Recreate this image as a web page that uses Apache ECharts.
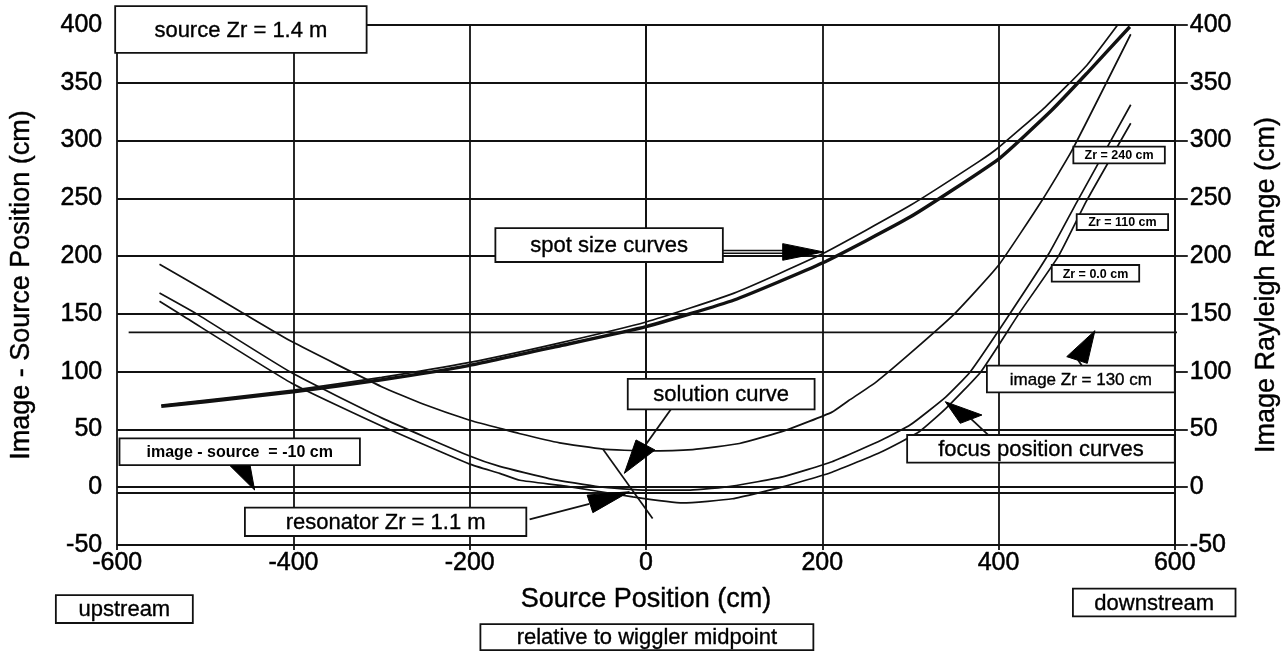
<!DOCTYPE html>
<html><head><meta charset="utf-8">
<script src="https://cdn.jsdelivr.net/npm/echarts@6/dist/echarts.min.js"></script>
<style>html,body{margin:0;padding:0;background:#fff}#c{width:1288px;height:651px}</style>
</head><body><div id="c"></div>
<script>
// ---- axis ticks ----
const xTicks = [-600,-400,-200,0,200,400,600];
const yTicks = [-50,0,50,100,150,200,250,300,350,400];

// ---- spot size curves ----
const spotThickX = [-550,-500,-400,-300,-200,-100,0,100,200,300,400,460,500,549];
const spotThickY = [70,74,82.5,93,105.5,122,139,162,194,234,284,326,358,398.5];
const spotThinX  = [-550,-400,-300,-200,-100,0,100,200,300,378,400,453,500,538];
const spotThinY  = [71,84,95,108,124.5,143,168,202,244,282,294,329,365,403];

// ---- focus position curves ----
const focus240X = [-552,-500,-458,-402,-300,-253,-200,-166,-144,-98,-49,0,53,106,159,211,230,261,300,350,400,450,483,550];
const focus240Y = [193,170,151,126,87,72,58,51,46.5,38.4,33,31.4,32.6,37.8,49.4,65,75,91,116,150,192,249,291,392];
const focus110X = [-552,-510,-402,-300,-200,-166,-110,-53,0,50,98,155,211,268,300,340,368,411,457,489,550];
const focus110Y = [168,150,99,60,27,18,7.5,0.3,-2.5,-2.5,1,9,22,41,54,78,100,148,202,247,331];
const focus0X   = [-552,-527,-402,-300,-200,-166,-143,-91,-15,42,98,155,211,268,310,340,380,423,468,500,550];
const focus0Y   = [161,149,90,53,20,12,6,1,-8.4,-13.6,-10,0.3,13,31,48,68,100,150,200,248,315];

// ---- solution curve and reference lines ----
const solutionX = [-49,7.5];
const solutionY = [33,-27];
const imageZrLineX = [-587,609];
const imageZrLineY = [134,134];
const diffLineX = [-600,600];
const diffLineY = [-5,-5];

// ---- annotation texts ----
const boxTexts = ['source Zr = 1.4 m','spot size curves','solution curve','resonator Zr = 1.1 m',
  'image - source  = -10 cm','Zr = 240 cm','Zr = 110 cm','Zr = 0.0 cm','image Zr = 130 cm',
  'focus position curves','upstream','downstream','relative to wiggler midpoint'];

const zip = (xs, ys) => xs.map((x, i) => [x, ys[i]]);
const FONT = '"Liberation Sans", Arial, Helvetica, sans-serif';
const INK = '#111';

const chart = echarts.init(document.getElementById('c'), null, {renderer: 'canvas'});

function lineSeries(name, xs, ys, w, extra) {
  return Object.assign({
    name, type: 'line', data: zip(xs, ys), showSymbol: false, smooth: 0.15,
    lineStyle: {color: INK, width: w}, silent: true, animation: false, z: 3
  }, extra || {});
}

const labelStyle = {color: '#000', fontSize: 25, fontFamily: FONT, textBorderColor: '#000', textBorderWidth: 0.5};
const nameStyle = {color: '#000', fontSize: 27, fontFamily: FONT, textBorderColor: '#000', textBorderWidth: 0.4};

const axisCommon = {
  type: 'value', min: yTicks[0], max: yTicks[yTicks.length - 1], interval: yTicks[1] - yTicks[0],
  axisLine: {show: true, lineStyle: {color: INK, width: 1.8}},
  axisTick: {show: true, length: 12, lineStyle: {color: INK, width: 1.8}},
  axisLabel: Object.assign({margin: 15}, labelStyle),
  nameLocation: 'middle',
  nameTextStyle: nameStyle
};

chart.setOption({
  animation: false,
  backgroundColor: '#fff',
  grid: {left: 115, right: 113, top: 25, bottom: 106, containLabel: false},
  xAxis: {
    type: 'value', min: xTicks[0], max: xTicks[xTicks.length - 1], interval: xTicks[1] - xTicks[0],
    axisLine: {show: true, onZero: false, lineStyle: {color: INK, width: 1.8}},
    axisTick: {show: true, length: 5, lineStyle: {color: INK, width: 1.8}},
    axisLabel: Object.assign({margin: 6}, labelStyle),
    splitLine: {show: true, lineStyle: {color: INK, width: 1.8}},
    name: 'Source Position (cm)', nameLocation: 'middle', nameGap: 41,
    nameTextStyle: nameStyle
  },
  yAxis: [
    Object.assign({}, axisCommon, {
      position: 'left', name: 'Image - Source Position (cm)', nameGap: 82,
      splitLine: {show: true, lineStyle: {color: INK, width: 1.8}}
    }),
    Object.assign({}, axisCommon, {
      position: 'right', name: 'Image Rayleigh Range (cm)', nameGap: 78, nameRotate: 90,
      axisTick: {show: true, length: 13, lineStyle: {color: INK, width: 1.8}},
      splitLine: {show: false}
    })
  ],
  series: [
    lineSeries('diff', diffLineX, diffLineY, 1.8),
    lineSeries('imageZr', imageZrLineX, imageZrLineY, 1.8, {clip: false}),
    lineSeries('focus240', focus240X, focus240Y, 1.7),
    lineSeries('focus110', focus110X, focus110Y, 1.7),
    lineSeries('focus0', focus0X, focus0Y, 1.7),
    lineSeries('solution', solutionX, solutionY, 1.7, {smooth: false}),
    lineSeries('spotThin', spotThinX, spotThinY, 1.7),
    lineSeries('spotThick', spotThickX, spotThickY, 3.4)
  ]
});

// ---- annotation layout in data units ----
const boxRects = [
  [-602.3,416.4,-317.0,375.8],
  [-170.9,224.3,87.2,194.9],
  [-20.7,93.7,191.3,67.4],
  [-455.1,-17.7,-135.8,-42.2],
  [-597.4,42.3,-324.6,19.2],
  [484.9,294.7,588.7,280.3],
  [488.7,236.4,592.4,222.6],
  [460.4,192.3,559.6,177.9],
  [386.8,105.2,600,82.1],
  [296.3,45.2,600,21.2],
  [-669.6,-93.3,-514.2,-117.5],
  [484.4,-87.8,668.9,-111.7],
  [-187.9,-118.4,189.9,-140.9]
];
const boxFonts = ['22px','22px','22px','22px','bold 16px','bold 12.5px','bold 12.5px','bold 12.5px','17px',
  '22px','22px','22px','22px'];
const arrowHeads = [
  [[155.1,210.8],[201.5,203.6],[155.1,196.4]],
  [[-11.3,40.9],[10.2,32.2],[-24.6,12]],
  [[-66.8,-6.8],[-60.3,-22],[-18.9,-3.9]],
  [[-471.7,18.4],[-449.1,18.4],[-444.1,-2.4]],
  [[477.4,113],[500.7,107.2],[509.4,135.5]],
  [[356.6,55.3],[381.2,62.5],[339.6,74]]
];
const arrowStems = [
  [[28.3,67.4],[-0.6,36.5]],
  [[-132.1,-27.8],[-64.2,-14.5]],
  [[494.7,105.2],[490.2,110.1]],
  [[394.3,40.9],[369.1,59]]
];
const spotStem = [[87.2,203.6],[160,203.6]];

function px(p) { return chart.convertToPixel({xAxisIndex: 0, yAxisIndex: 0}, p); }

const g = [];
boxRects.forEach((r, i) => {
  const a = px([r[0], r[1]]), b = px([r[2], r[3]]);
  g.push({type: 'rect', z: 100, shape: {x: a[0], y: a[1], width: b[0] - a[0], height: b[1] - a[1]},
    style: {fill: '#fff', stroke: INK, lineWidth: 1.8}});
  g.push({type: 'text', z: 101, style: {text: boxTexts[i], x: (a[0] + b[0]) / 2, y: (a[1] + b[1]) / 2 + 1,
    align: 'center', verticalAlign: 'middle', font: boxFonts[i] + ' ' + FONT, fill: '#000',
    stroke: '#000', lineWidth: i >= 4 && i <= 7 ? 0 : 0.35}});
});
arrowStems.forEach(s => {
  g.push({type: 'polyline', z: 99, shape: {points: s.map(px)}, style: {stroke: INK, lineWidth: 1.8, fill: null}});
});
g.push({type: 'polyline', z: 99, shape: {points: spotStem.map(px)}, style: {stroke: INK, lineWidth: 4.2, fill: null}});
g.push({type: 'polyline', z: 99.5, shape: {points: spotStem.map(px)}, style: {stroke: '#fff', lineWidth: 1.2, fill: null}});
arrowHeads.forEach(h => {
  g.push({type: 'polygon', z: 102, shape: {points: h.map(px)}, style: {fill: '#000', stroke: '#000', lineWidth: 1}});
});
chart.setOption({graphic: g});
</script>
</body></html>
